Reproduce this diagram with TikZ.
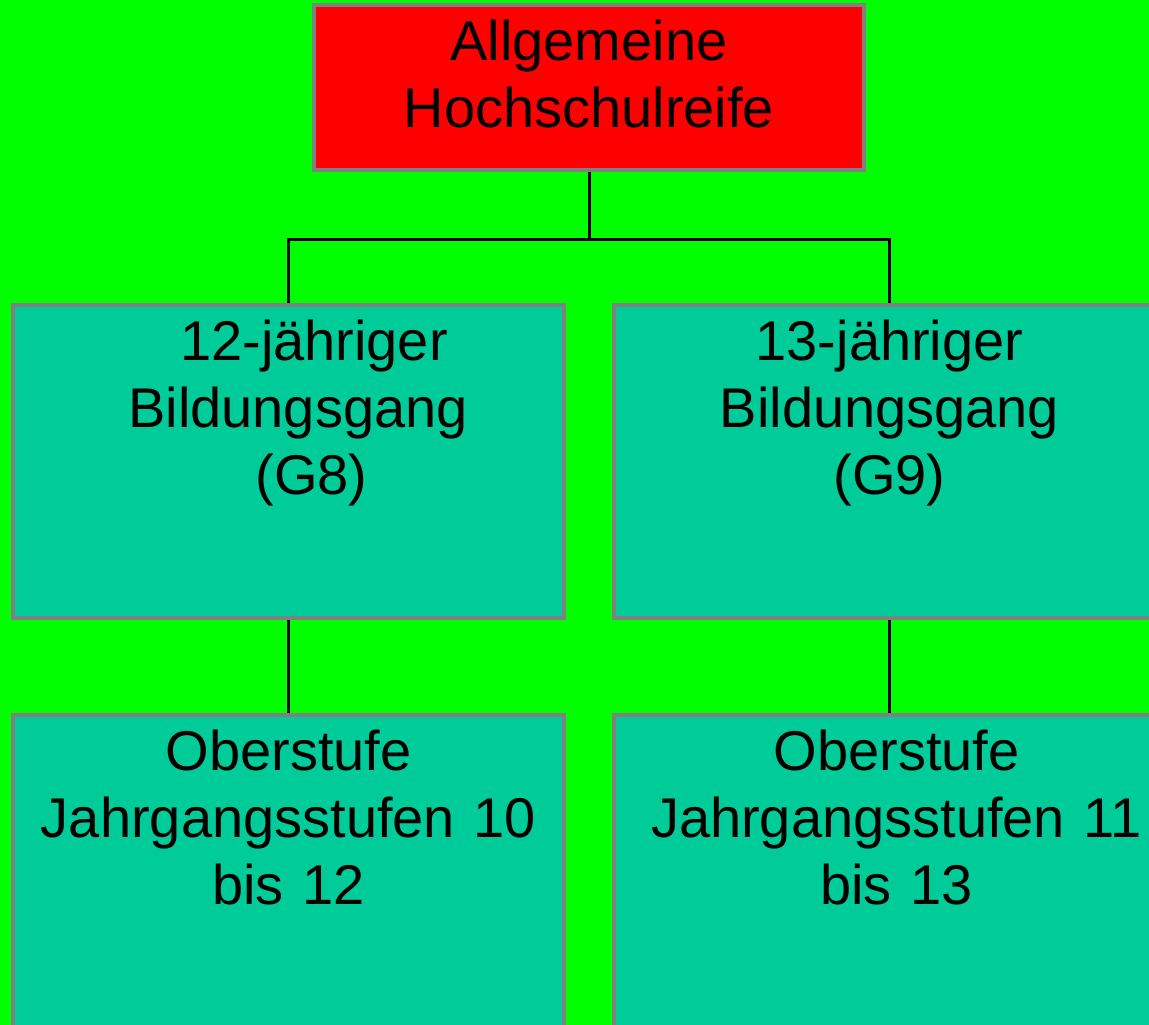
\documentclass[tikz,border=0pt]{standalone}
\usepackage{fontspec}
\setmainfont{Liberation Sans}
\usepackage{tikz}
\usetikzlibrary{shapes,arrows,calc}
\definecolor{lawn}{HTML}{00FF00}
\definecolor{sea}{HTML}{00CC99}
\definecolor{frame}{HTML}{808080}
\tikzstyle{line} = [draw, line width=3pt]
\tikzstyle{block} = [draw=frame, line width=4pt, fill=sea, rectangle, text centered, inner sep=0pt, text width=551pt, text height=55pt, text depth=258pt, font=\fontsize{56pt}{67pt}\selectfont]
\tikzstyle{goal} = [block, fill=red, text width=550pt, text depth=110pt]
\begin{document}
\begin{tikzpicture}[node distance = 374pt, auto]
        \useasboundingbox (0,0) rectangle (1149pt,-1025pt);
        \clip (0,0) rectangle (1149pt,-1025pt);
        \fill[lawn] (0,0) rectangle (1149pt,-1025pt);
        \node[goal] (root) at (589pt,-87.5pt) {Allgemeine\\Hochschulreife};
        \node[block, below of=root, xshift=-300.5pt] (g8) {\hspace*{51pt}12-jähriger\\\hspace*{19pt}Bildungsgang\\\hspace*{46pt}(G8)};
        \node[block, below of=root, xshift=300.5pt] (g9) {13-jähriger\\Bildungsgang\\(G9)};
        \node[block, below of=g8, node distance=418.5pt, text depth=275pt] (ob8) {Oberstufe\\Jahrgangsstufen 10\\bis 12};
        \node[block, below of=g9, node distance=418.5pt, text depth=275pt] (ob9) {\hspace*{14pt}Oberstufe\\\hspace*{14pt}Jahrgangsstufen 11\\\hspace*{14pt}bis 13};
        \path[line] (root.south) -- +(0,-67pt) -| (g8.north);
        \path[line] (root.south) -- +(0,-67pt) -| (g9.north);
        \path[line] (g8) -- (ob8);
        \path[line] (g9) -- (ob9);
    \end{tikzpicture}
\end{document}
